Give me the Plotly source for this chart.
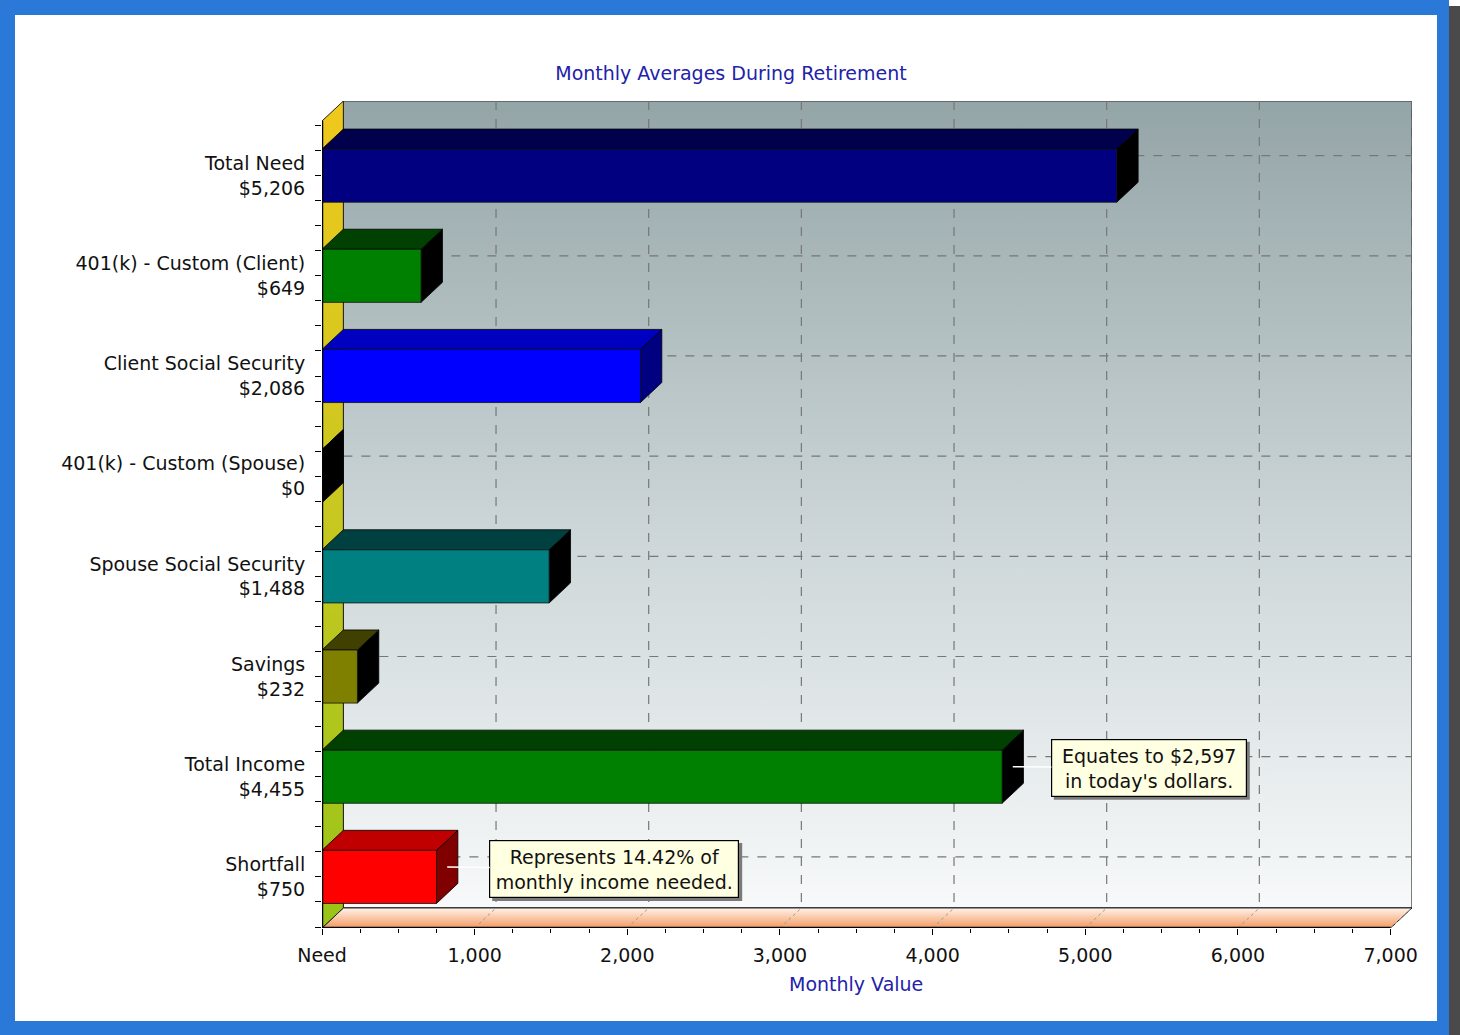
import plotly.graph_objects as go

# ---------------- data ----------------
categories = ["Total Need", "401(k) - Custom (Client)", "Client Social Security",
              "401(k) - Custom (Spouse)", "Spouse Social Security", "Savings",
              "Total Income", "Shortfall"]
values = [5206, 649, 2086, 0, 1488, 232, 4455, 750]
x_tick_vals = [0, 1000, 2000, 3000, 4000, 5000, 6000, 7000]
x_tick_text = ["Need", "1,000", "2,000", "3,000", "4,000", "5,000", "6,000", "7,000"]
title_text = "Monthly Averages During Retirement"
x_title = "Monthly Value"
note_income = "Equates to $2,597<br>in today's dollars."
note_shortfall = "Represents 14.42% of<br>monthly income needed."

# ---------------- styles ----------------
front_colors = ["#000080", "#008000", "#0000ff", "#400040", "#008080", "#808000", "#008000", "#ff0000"]
top_colors = ["#00004c", "#004000", "#0000c0", "#200020", "#004040", "#404000", "#004000", "#c00000"]
side_colors = ["#000000", "#000000", "#000080", "#000000", "#000000", "#000000", "#000000", "#800000"]

W, H = 1460, 1035
L, R, T, B = 322, 1412, 101, 928
XMAX = 7000
DX = 140          # depth in x data units
DY = 0.2          # depth in y data units
HH = 0.265        # half bar height
Y_TOP, Y_BOT = -0.745, 7.51

fig = go.Figure()


def poly(xs, ys, fill=None, line="#000000", lw=1, grad=None, dash=None, mode="lines"):
    kw = dict(x=xs, y=ys, mode=mode, hoverinfo="skip", showlegend=False,
              line=dict(color=line, width=lw, dash=dash))
    if fill is not None or grad is not None:
        kw["fill"] = "toself"
        if fill is not None:
            kw["fillcolor"] = fill
        if grad is not None:
            kw["fillgradient"] = grad
    fig.add_trace(go.Scatter(**kw))


# back wall
poly([DX, XMAX + DX, XMAX + DX, DX, DX], [Y_TOP, Y_TOP, Y_BOT - DY, Y_BOT - DY, Y_TOP],
     line="#303030", lw=1.2,
     grad=dict(type="vertical", start=Y_TOP, stop=Y_BOT - DY,
               colorscale=[[0, "#94a5a7"], [0.5, "#c9d3d5"], [1, "#f7f9fa"]]))

# floor
poly([0, XMAX, XMAX + DX, DX, 0], [Y_BOT, Y_BOT, Y_BOT - DY, Y_BOT - DY, Y_BOT],
     line="#202020", lw=1,
     grad=dict(type="vertical", start=Y_BOT - DY, stop=Y_BOT,
               colorscale=[[0, "#fff3ea"], [1, "#f49a62"]]))

# grid lines on back wall (vertical) and on the floor
for v in x_tick_vals[1:]:
    poly([v + DX, v + DX], [Y_TOP, Y_BOT - DY], line="#777777", lw=1.2, dash="dash")
    poly([v, v + DX], [Y_BOT, Y_BOT - DY], line="#999999", lw=1, dash="dot")
# grid lines on back wall (horizontal)
for i in range(len(categories)):
    poly([DX, XMAX + DX], [i - DY, i - DY], line="#777777", lw=1.2, dash="dash")

# left wall
poly([0, DX, DX, 0, 0], [Y_TOP + DY, Y_TOP, Y_BOT - DY, Y_BOT, Y_TOP + DY],
     line="#202020", lw=1,
     grad=dict(type="vertical", start=Y_TOP, stop=Y_BOT,
               colorscale=[[0, "#f0c81c"], [0.5, "#c8c820"], [1, "#98c418"]]))

# bars (side, top, front faces)
for i, v in enumerate(values):
    y0, y1 = i - HH, i + HH
    poly([v, v + DX, v + DX, v, v], [y0, y0 - DY, y1 - DY, y1, y0],
         fill=side_colors[i], line="#000000", lw=0.8)
    poly([0, v, v + DX, DX, 0], [y0, y0, y0 - DY, y0 - DY, y0],
         fill=top_colors[i], line="#000000", lw=0.8)
    if v > 0:
        poly([0, v, v, 0, 0], [y0, y0, y1, y1, y0],
             fill=front_colors[i], line="#101010", lw=0.8)

# axis lines (front edges)
poly([0, 0], [Y_TOP + DY, Y_BOT], line="#000000", lw=2.5)
poly([0, XMAX], [Y_BOT, Y_BOT], line="#000000", lw=2.5)

tick_text_y = [f"{c}<br>${v:,}" for c, v in zip(categories, values)]


def px_x(px):
    return (px - L) / (R - L)


def px_y(py):
    return (B - py) / (B - T)


frame_blue = "#2a78d8"
shapes = [
    dict(type="rect", xref="paper", yref="paper", x0=px_x(1449), x1=px_x(1460), y0=px_y(1035), y1=px_y(6),
         fillcolor="#4a4a4a", line=dict(width=0), layer="below"),
    dict(type="rect", xref="paper", yref="paper", x0=px_x(0), x1=px_x(15), y0=px_y(1035), y1=px_y(0),
         fillcolor=frame_blue, line=dict(width=0), layer="below"),
    dict(type="rect", xref="paper", yref="paper", x0=px_x(0), x1=px_x(1449), y0=px_y(15), y1=px_y(0),
         fillcolor=frame_blue, line=dict(width=0), layer="below"),
    dict(type="rect", xref="paper", yref="paper", x0=px_x(1437), x1=px_x(1449), y0=px_y(1035), y1=px_y(0),
         fillcolor=frame_blue, line=dict(width=0), layer="below"),
    dict(type="rect", xref="paper", yref="paper", x0=px_x(0), x1=px_x(1449), y0=px_y(1035), y1=px_y(1021),
         fillcolor=frame_blue, line=dict(width=0), layer="below"),
]

font_main = "DejaVu Sans"
FS = 19
annotations = []
annotations.append(dict(x=XMAX / 2, xref="x", y=px_y(984), yref="paper", yanchor="middle", text=x_title,
                        showarrow=False, font=dict(family=font_main, size=FS, color="#2222aa")))


def callout(idx, text, ax, ay, tw, th):
    v = values[idx]
    px, py = v + DX / 2, idx - DY / 2
    pad = 4
    bw, bh = tw + 2 * pad + 2, th + 2 * pad + 2
    # shadow box
    shapes.append(dict(type="rect", xref="x", yref="y", xsizemode="pixel", ysizemode="pixel",
                       xanchor=px, yanchor=py,
                       x0=ax - bw / 2 + 3, x1=ax + bw / 2 + 3,
                       y0=-ay - bh / 2 - 3, y1=-ay + bh / 2 - 3,
                       fillcolor="#7a7a7a", line=dict(width=0), layer="above"))
    annotations.append(dict(
        x=px, y=py, xref="x", yref="y", text=text,
        showarrow=True, arrowhead=0, arrowwidth=1.5, arrowcolor="#ffffff",
        ax=ax, ay=ay, axref="pixel", ayref="pixel",
        width=tw, height=th,
        bgcolor="#ffffe1", bordercolor="#000000", borderwidth=1.2, borderpad=pad,
        font=dict(family=font_main, size=FS, color="#111111"), align="center"))


callout(6, note_income, 136, 1, 186, 48)
callout(7, note_shortfall, 167, 2, 240, 48)

fig.update_layout(
    width=W, height=H,
    margin=dict(l=L, r=W - R, t=T, b=H - B),
    paper_bgcolor="#ffffff", plot_bgcolor="rgba(0,0,0,0)",
    title=dict(text=title_text, x=731 / W, xanchor="center", y=1 - 73 / H, yanchor="middle",
               font=dict(family=font_main, size=FS, color="#2222aa")),
    shapes=shapes, annotations=annotations,
    xaxis=dict(range=[0, XMAX + DX], tickvals=x_tick_vals, ticktext=x_tick_text,
               showgrid=False, zeroline=False, showline=False,
               ticks="outside", ticklen=6, tickcolor="#000000", tickwidth=1.2,
               minor=dict(dtick=250, tick0=0, ticks="outside", ticklen=4, tickcolor="#000000", showgrid=False),
               ticklabelstandoff=4,
               tickfont=dict(family=font_main, size=FS, color="#111111")),
    yaxis=dict(range=[Y_BOT, Y_TOP], tickvals=list(range(len(categories))), ticktext=tick_text_y,
               showgrid=False, zeroline=False, showline=False,
               ticks="outside", ticklen=6, tickcolor="#000000", tickwidth=1.2,
               minor=dict(dtick=0.25, tick0=0, ticks="outside", ticklen=6, tickcolor="#000000", showgrid=False),
               ticklabelstandoff=6,
               tickfont=dict(family=font_main, size=FS, color="#111111")),
)

fig.write_html("out.html", config={"displayModeBar": False},
               post_script="document.body.style.margin='0';document.body.style.overflow='hidden';")
